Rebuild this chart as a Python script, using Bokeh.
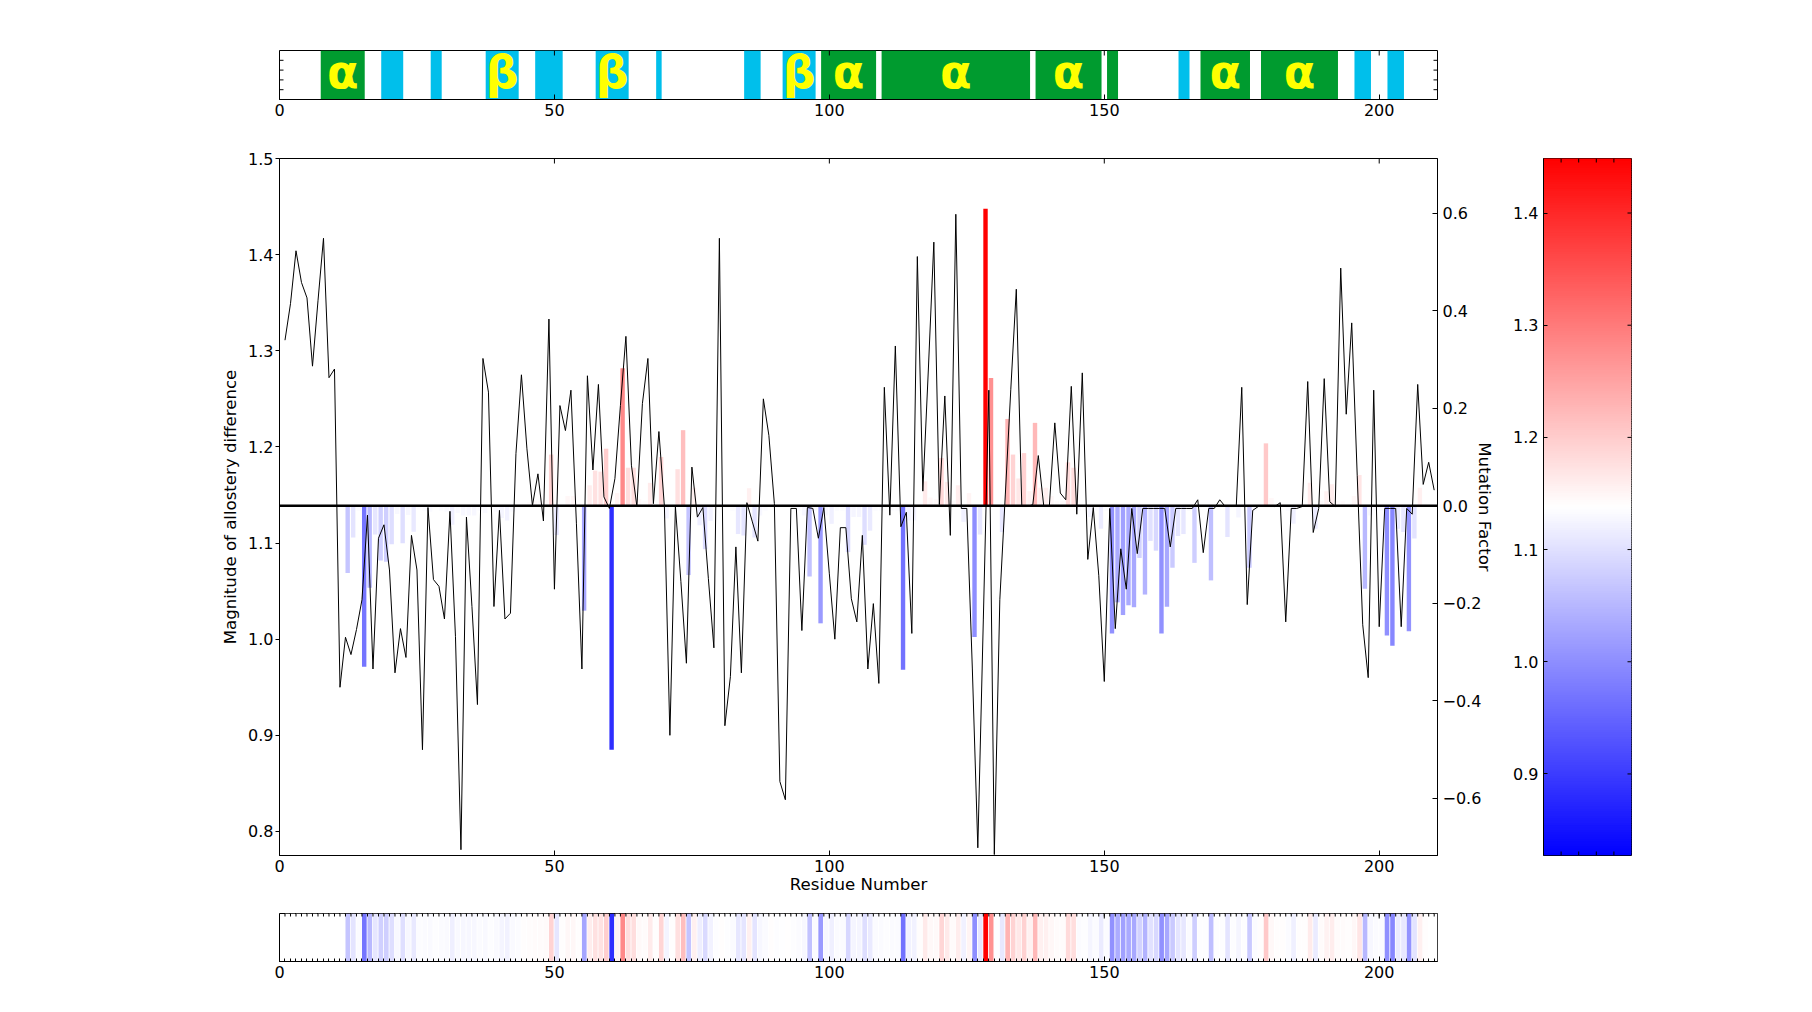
from bokeh.plotting import figure
from bokeh.models import (Range1d, LinearAxis, FixedTicker, ColumnDataSource, Span,
                          CustomJSTickFormatter)
from bokeh.layouts import column, row
from bokeh.embed import file_html
from bokeh.resources import INLINE
from bokeh.core.properties import value

# ---------------- data ----------------
residues = list(range(1, 211))

allostery = [
    1.311, 1.349, 1.404, 1.371, 1.355, 1.284, 1.352, 1.417, 1.272, 1.281,
    0.950, 1.002, 0.984, 1.010, 1.041, 1.129, 0.969, 1.105, 1.119, 1.072,
    0.965, 1.011, 0.981, 1.108, 1.072, 0.885, 1.137, 1.062, 1.055, 1.021,
    1.133, 1.003, 0.781, 1.127, 1.034, 0.932, 1.292, 1.257, 1.034, 1.134,
    1.021, 1.027, 1.193, 1.275, 1.198, 1.139, 1.172, 1.123, 1.333, 1.052,
    1.243, 1.217, 1.259, 1.120, 0.969, 1.274, 1.176, 1.265, 1.148, 1.136,
    1.167, 1.243, 1.315, 1.181, 1.138, 1.245, 1.292, 1.141, 1.216, 1.138,
    0.900, 1.138, 1.060, 0.975, 1.179, 1.127, 1.137, 1.063, 0.991, 1.417,
    0.910, 0.961, 1.096, 0.965, 1.142, 1.122, 1.102, 1.250, 1.212, 1.141,
    0.852, 0.833, 1.136, 1.136, 1.009, 1.137, 1.136, 1.105, 1.137, 1.068,
    1.000, 1.116, 1.116, 1.042, 1.018, 1.108, 0.969, 1.037, 0.954, 1.262,
    1.129, 1.305, 1.117, 1.132, 1.006, 1.398, 1.154, 1.280, 1.413, 1.140,
    1.253, 1.108, 1.442, 1.136, 1.136, 0.970, 0.783, 1.020, 1.259, 0.776,
    1.041, 1.150, 1.260, 1.364, 1.138, 1.138, 1.140, 1.191, 1.138, 1.138,
    1.225, 1.152, 1.145, 1.263, 1.130, 1.277, 1.083, 1.137, 1.066, 0.956,
    1.136, 1.011, 1.094, 1.052, 1.136, 1.089, 1.136, 1.136, 1.136, 1.136,
    1.136, 1.096, 1.136, 1.136, 1.136, 1.136, 1.145, 1.090, 1.136, 1.136,
    1.145, 1.138, 1.138, 1.138, 1.262, 1.036, 1.134, 1.138, 1.138, 1.138,
    1.138, 1.142, 1.018, 1.136, 1.136, 1.138, 1.268, 1.111, 1.136, 1.271,
    1.143, 1.138, 1.386, 1.234, 1.329, 1.170, 1.015, 0.960, 1.259, 1.013,
    1.136, 1.136, 1.136, 1.013, 1.136, 1.130, 1.265, 1.161, 1.184, 1.155,
]

mutation = [
    0.0, 0.0, 0.0, 0.0, 0.0, 0.0, 0.0, 0.0, 0.0, 0.0,
    0.0, -0.138, -0.065, -0.010, -0.330, -0.168, -0.059, -0.112, -0.115, -0.079,
    -0.017, -0.077, -0.019, -0.053, -0.008, -0.010, -0.012, -0.005, -0.010, -0.012,
    -0.039, -0.015, -0.020, -0.020, -0.020, -0.010, -0.015, -0.005, -0.012, -0.025,
    -0.030, -0.012, -0.008, 0.005, 0.008, 0.010, 0.010, 0.012, 0.105, -0.060,
    0.005, 0.020, 0.020, 0.005, -0.215, 0.042, 0.072, 0.070, 0.117, -0.500,
    0.026, 0.282, 0.078, 0.078, 0.014, 0.010, 0.047, 0.005, 0.100, -0.026,
    0.003, 0.075, 0.155, -0.142, 0.037, -0.040, -0.089, -0.031, -0.005, 0.004,
    -0.004, -0.010, -0.058, -0.061, 0.036, -0.065, -0.020, -0.010, 0.005, -0.005,
    -0.003, 0.002, -0.005, -0.010, -0.020, -0.145, -0.010, -0.241, -0.020, -0.037,
    -0.010, -0.010, -0.095, -0.023, -0.023, -0.080, -0.051, -0.010, -0.010, -0.005,
    -0.010, -0.010, -0.336, -0.030, -0.030, 0.005, 0.050, 0.017, 0.014, 0.098,
    0.049, 0.010, 0.042, -0.033, 0.026, -0.269, -0.059, 0.609, 0.262, -0.005,
    -0.054, 0.178, 0.105, 0.056, 0.108, 0.030, 0.170, 0.037, 0.037, 0.020,
    0.010, 0.010, 0.089, 0.078, -0.010, -0.005, -0.023, -0.010, -0.047, -0.010,
    -0.262, -0.198, -0.224, -0.204, -0.208, -0.107, -0.182, -0.072, -0.092, -0.262,
    -0.207, -0.127, -0.062, -0.058, -0.010, -0.117, -0.005, -0.005, -0.153, -0.005,
    -0.005, -0.064, -0.005, -0.024, -0.005, -0.127, -0.010, 0.005, 0.128, 0.016,
    0.005, 0.005, -0.010, -0.037, 0.005, 0.005, 0.047, -0.047, 0.010, 0.030,
    0.044, 0.010, 0.010, 0.005, 0.020, 0.063, -0.170, -0.020, -0.010, -0.010,
    -0.266, -0.287, -0.047, -0.054, -0.257, -0.067, 0.037, 0.005, 0.0, 0.0,
]

# secondary structure (H = helix, E = strand)
ss_start = [7.5, 18.5, 27.5, 37.5, 46.5, 57.5, 68.5, 84.5, 91.5, 98.5,
            109.5, 137.5, 150.5, 163.5, 167.5, 178.5, 195.5, 201.5]
ss_end = [15.5, 22.5, 29.5, 43.5, 51.5, 63.5, 69.5, 87.5, 97.5, 108.5,
          136.5, 149.5, 152.5, 165.5, 176.5, 192.5, 198.5, 204.5]
ss_type = ["H", "E", "E", "E", "E", "E", "E", "E", "E", "H",
           "H", "H", "H", "E", "H", "H", "E", "E"]
ss_label = ["α", "", "", "β", "", "β", "", "", "β", "α",
            "α", "α", "", "", "α", "α", "", ""]

x_ticks = [0, 50, 100, 150, 200]
left_ticks = [0.8, 0.9, 1.0, 1.1, 1.2, 1.3, 1.4, 1.5]
right_ticks = [-0.6, -0.4, -0.2, 0.0, 0.2, 0.4, 0.6]
cbar_ticks = [0.9, 1.0, 1.1, 1.2, 1.3, 1.4]
frac_ticks = [0.2, 0.4, 0.6, 0.8]
strip_minor = list(range(0, 211))

# ---------------- styling helpers ----------------
X_MAX = 210.6
FONT = "DejaVu Sans"
TICK_FS = "16px"
LABEL_FS = "16.6px"
Y_LO, Y_HI = 0.775, 1.5
M_LO, M_HI = -0.717, 0.712
CB_LOW, CB_HIGH = 0.8273, 1.4486

FRAME_W = 1158        # px width of the strips / main frame
MAIN_H = 697          # px height of main frame
STRIP_TOP_H = 49
STRIP_BOT_H = 48
CB_W = 88

px_x = FRAME_W / X_MAX          # px per residue


def bwr(f):
    f = min(max(f, 0.0), 1.0)
    if f < 0.5:
        r = g = 2 * f
        b = 1.0
    else:
        r = 1.0
        g = b = 2 * (1 - f)
    return "#%02x%02x%02x" % (round(r * 255), round(g * 255), round(b * 255))


mmax = max(abs(m) for m in mutation)
bar_colors = [bwr(0.5 + 0.5 * m / mmax) for m in mutation]

fmt1 = CustomJSTickFormatter(code="return tick.toFixed(1).replace('-', '\u2212');")


def style_axis(ax, ticks, tick_in=5, tick_out=0, standoff=4):
    ax.ticker = FixedTicker(ticks=ticks)
    ax.major_tick_in = tick_in
    ax.major_tick_out = tick_out
    ax.minor_tick_in = 0
    ax.minor_tick_out = 0
    ax.major_tick_line_color = "black"
    ax.axis_line_color = "black"
    ax.major_label_text_font = FONT
    ax.major_label_text_font_size = TICK_FS
    ax.major_label_text_color = "black"
    ax.major_label_standoff = standoff
    ax.axis_label_text_font = FONT
    ax.axis_label_text_font_size = LABEL_FS
    ax.axis_label_text_font_style = "normal"
    ax.axis_label_text_color = "black"


def base_fig(width, height, x_range, y_range, left, right, top, bottom):
    f = figure(width=width, height=height, x_range=x_range, y_range=y_range,
               output_backend="svg", toolbar_location=None,
               min_border_left=left, min_border_right=right,
               min_border_top=top, min_border_bottom=bottom,
               x_axis_location=None, y_axis_location=None)
    f.xgrid.visible = False
    f.ygrid.visible = False
    f.outline_line_color = "black"
    f.outline_line_width = 1
    f.background_fill_color = "white"
    f.border_fill_color = "white"
    return f


def vticks(f, xs, y_edge, length, **kw):
    f.segment(x0=xs, x1=xs, y0=[y_edge] * len(xs), y1=[y_edge + length] * len(xs),
              line_color="black", line_width=1, **kw)


def hticks(f, ys, x_edge, length, **kw):
    f.segment(x0=[x_edge] * len(ys), x1=[x_edge + length] * len(ys), y0=ys, y1=ys,
              line_color="black", line_width=1, **kw)


# ---------------- top strip: secondary structure ----------------
ss_colors = ["#009B2F" if t == "H" else "#00BFEB" for t in ss_type]
lab_x = [(a + b) / 2 for a, b, l in zip(ss_start, ss_end, ss_label) if l]
lab_t = [l for l in ss_label if l]
top = base_fig(1812, 150, Range1d(0, X_MAX), Range1d(0, 1), 279, 375, 50, 51)
top.quad(left=ss_start, right=ss_end, bottom=0, top=1, fill_color=ss_colors,
         line_color=None)
top.text(x=lab_x, y=[0.56] * len(lab_x), text=lab_t, text_color="#FFFF00",
         text_font=value(FONT), text_font_size="46px", text_font_style="bold",
         text_align="center", text_baseline="middle")
ax = LinearAxis(); style_axis(ax, x_ticks, tick_in=5, standoff=4); top.add_layout(ax, "below")
vticks(top, x_ticks, 1.0, -5 / STRIP_TOP_H)
hticks(top, frac_ticks, 0.0, 4 / px_x)
hticks(top, frac_ticks, X_MAX, -4 / px_x)

# ---------------- main plot ----------------
main = base_fig(1505, 760, Range1d(0, X_MAX), Range1d(Y_LO, Y_HI), 279, 68, 8, 55)
main.extra_y_ranges = {"mut": Range1d(M_LO, M_HI)}
bar_src = ColumnDataSource(dict(x=[r + 0.4 for r in residues], top=mutation,
                                color=bar_colors))
main.vbar(x="x", width=0.8, top="top", bottom=0, source=bar_src,
          fill_color="color", line_color=None, y_range_name="mut")
main.line(residues, allostery, line_color="black", line_width=1)
main.add_layout(Span(location=0, dimension="width", y_range_name="mut",
                     line_color="black", line_width=2.5))
vticks(main, x_ticks, Y_HI, -5 * (Y_HI - Y_LO) / MAIN_H)

ax = LinearAxis(axis_label="Residue Number")
style_axis(ax, x_ticks, tick_in=5, standoff=4)
ax.axis_label_standoff = 0
main.add_layout(ax, "below")
ax = LinearAxis(axis_label="Magnitude of allostery difference")
style_axis(ax, left_ticks, tick_in=0, tick_out=4, standoff=2)
ax.formatter = fmt1
ax.axis_label_standoff = 5
main.add_layout(ax, "left")
ax = LinearAxis(y_range_name="mut", axis_label="Mutation Factor")
style_axis(ax, right_ticks, tick_in=5, standoff=5)
ax.formatter = fmt1
ax.axis_label_standoff = -9
main.add_layout(ax, "right")

# ---------------- colorbar ----------------
cb = base_fig(307, 760, Range1d(0, 1), Range1d(CB_LOW, CB_HIGH), 38, 181, 8, 55)
n_steps = 300
step = (CB_HIGH - CB_LOW) / n_steps
cb_bottom = [CB_LOW + step * i for i in range(n_steps)]
cb_top = [b + step * 1.6 for b in cb_bottom]
cb_colors = [bwr((b + 0.5 * step - CB_LOW) / (CB_HIGH - CB_LOW)) for b in cb_bottom]
cb.quad(left=0, right=1, bottom=cb_bottom, top=cb_top, fill_color=cb_colors,
        line_color=None)
ax = LinearAxis(); style_axis(ax, cbar_ticks, tick_in=4, standoff=5); ax.formatter = fmt1
cb.add_layout(ax, "left")
cb_px_y = (CB_HIGH - CB_LOW) / MAIN_H
hticks(cb, cbar_ticks, 1.0, -4 / CB_W)
vticks(cb, frac_ticks, CB_HIGH, -4 * cb_px_y)
vticks(cb, frac_ticks, CB_LOW, 4 * cb_px_y)

# ---------------- bottom strip ----------------
bot = base_fig(1812, 102, Range1d(0, X_MAX), Range1d(0, 1), 279, 375, 3, 51)
strip_src = ColumnDataSource(dict(x=[r + 0.425 for r in residues], color=bar_colors))
bot.vbar(x="x", width=0.85, top=1, bottom=0, source=strip_src,
         fill_color="color", line_color=None)
ax = LinearAxis(); style_axis(ax, x_ticks, tick_in=5, standoff=4)
ax.ticker = FixedTicker(ticks=x_ticks, minor_ticks=strip_minor)
ax.minor_tick_in = 3
ax.minor_tick_line_color = "black"
bot.add_layout(ax, "below")
vticks(bot, x_ticks, 1.0, -5 / STRIP_BOT_H)
vticks(bot, strip_minor, 1.0, -3 / STRIP_BOT_H)

layout = column(top, row(main, cb), bot)
open("out.html", "w").write(file_html(layout, INLINE))
